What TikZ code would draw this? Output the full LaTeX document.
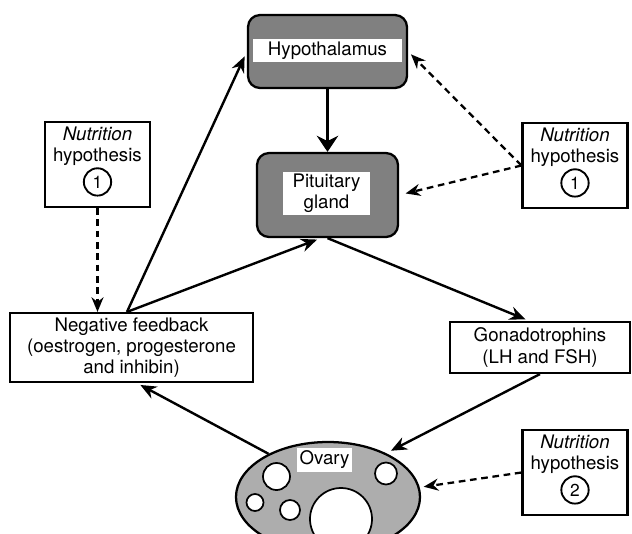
\documentclass[tikz,border=0pt]{standalone}
\usepackage{fontspec}
\setmainfont{TeX Gyre Heros}
\usetikzlibrary{arrows.meta,positioning,shapes.geometric}

\tikzset{
  every node/.style={font=\fontsize{14}{16}\selectfont},
  gland/.style={draw,line width=1.7pt,rounded corners=9pt,fill=black!50},
  labelband/.style={fill=white,inner sep=0pt,align=center},
  textbox/.style={draw,line width=1.6pt,fill=white,align=center,inner sep=0pt},
  nutbox/.style={draw,line width=1.6pt,minimum width=78.75pt,minimum height=63.75pt},
  nuttext/.style={align=center,inner sep=0pt},
  numring/.style={circle,draw,line width=1.4pt,minimum size=20.5pt,inner sep=0pt,font=\fontsize{13}{15}\selectfont},
  link/.style={line width=1.8pt,-{Stealth[length=12pt,width=10pt]}},
  maybe/.style={line width=1.7pt,dash pattern=on 5pt off 3.5pt,-{Stealth[length=11pt,width=9pt]}}
}
\newcommand\NutBox[3]{%
    \node[nutbox] (#1) at (#2) {};
    \node[nuttext,below=4pt of #1.north] (#1txt) {\textit{Nutrition}\\hypothesis};
    \node[numring] (#1num) at ([yshift=-45.75pt]#1.north) {#3};
}

\begin{document}
\begin{tikzpicture}[x=0.75pt,y=-0.75pt]
    \clip (0,0) rectangle (632,533);
    % glands
    \node[gland,minimum width=119.25pt,minimum height=54.75pt] (hyp) at (327.5,51.5) {};
    \node[labelband,minimum width=111.75pt,minimum height=17.25pt] (hyplab) at (327.5,50.5) {Hypothalamus};
    \node[gland,minimum width=105.75pt,minimum height=63pt] (pit) at (327.5,195) {};
    \node[labelband,minimum width=65.25pt,minimum height=32.25pt] (pitlab) at (326.5,193.5) {Pituitary\\gland};
    \node[textbox,minimum width=182.25pt,minimum height=51.75pt] (fb) at (131.5,347.5) {Negative feedback\\(oestrogen, progesterone\\and inhibin)};
    \node[textbox,minimum width=135pt,minimum height=38.25pt] (gon) at (540,347.5) {Gonadotrophins\\(LH and FSH)};
    % ovary with follicles
    \node[ellipse,draw,line width=1.7pt,fill=black!32,minimum width=138pt,minimum height=82.5pt] (ov) at (328,497) {};
    \foreach \cx/\cy/\r in {276.5/476.5/13.5,386/473.5/11,255/502.5/8.5,290/510/10,341/519/31}
        \draw[line width=1.3pt,fill=white] (\cx,\cy) circle[radius=\r];
    \node[labelband,minimum width=41.25pt,minimum height=18pt] (ovlab) at (324.5,460) {Ovary};
    % hormone links
    \coordinate (fbtop) at ([xshift=-3.4pt]fb.north);
    \draw[link,line width=2.2pt,-{Stealth[length=12pt,width=16pt]}] (hyp) -- (pit);
    \draw[link,shorten >=4pt] (fbtop) -- (hyp.west);
    \draw[link,shorten >=3pt] (fbtop) -- ([xshift=-5pt]pit.south);
    \draw[link,shorten >=3pt] (pit.south) -- ([xshift=-8pt]gon.north);
    \draw[link,shorten >=4pt] (gon.south) -- (ov.37);
    \draw[link,shorten >=3pt] (ov.144) -- ([xshift=4pt]fb.south);
    % nutrition hypotheses
    \NutBox{nl}{97.5,164.5}{1}
    \NutBox{nr}{575,165.5}{1}
    \NutBox{no}{575,472.5}{2}
    \draw[maybe] (nl.south) -- (nl.south |- fb.north);
    \draw[maybe,shorten >=3pt] (nr.west) -- (hyp.east);
    \draw[maybe,shorten >=5pt] (nr.west) -- (pit.east);
    \draw[maybe,shorten >=3pt] (no.west) -- (ov.6);
\end{tikzpicture}
\end{document}
